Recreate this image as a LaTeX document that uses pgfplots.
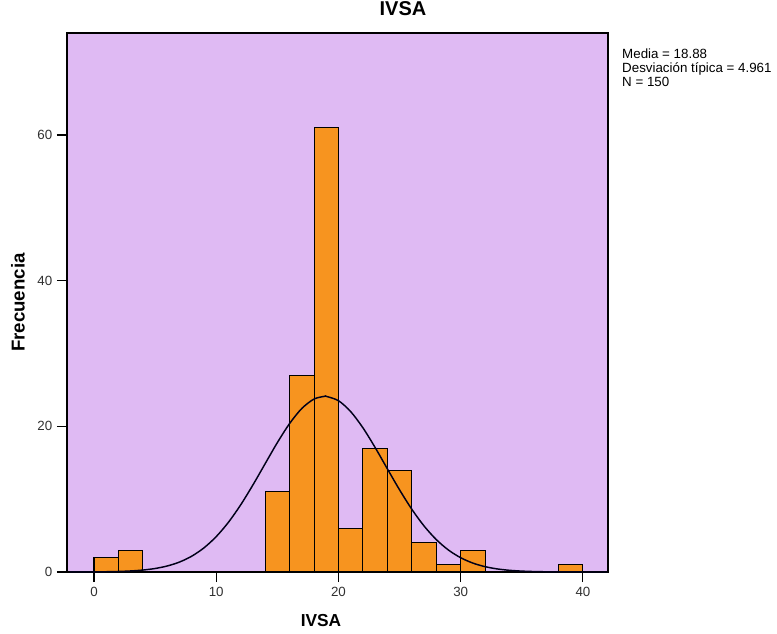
\documentclass[border=0pt]{standalone}
\usepackage{fontspec}
\setmainfont{Liberation Sans}
\usepackage{pgfplots}
\pgfplotsset{compat=1.18}
\definecolor{bgpurple}{HTML}{DFBAF3}
\definecolor{barorange}{HTML}{F7941F}
\definecolor{ticktext}{HTML}{303030}
\begin{document}
\begin{tikzpicture}[x=0.75pt,y=0.75pt]
% overall canvas (in px units of 0.75pt), axis box at (0,0)-(541,539)
\path[use as bounding box] (-67,-61) rectangle (710,572);
\begin{axis}[
  at={(0,0)}, anchor=south west,
  scale only axis,
  width=405.75pt, height=404.25pt,
  xmin=-2.21, xmax=42.05,
  ymin=0, ymax=74,
  axis background/.style={fill=bgpurple},
  axis line style={black, line width=0.8pt},
  xtick={0,10,20,30,40},
  ytick={0,20,40,60},
  tick align=outside,
  xtick pos=bottom, ytick pos=left,
  major tick length=7.5pt,
  tick style={black, line width=0.8pt},
  tick label style={font=\fontsize{10}{12}\selectfont, text=ticktext},
  /pgf/number format/assume math mode=true,
  title={\textbf{IVSA}},
  title style={font=\fontsize{15}{18}\selectfont, at={(axis description cs:0.621,1.0297)}, anchor=center},
  xlabel={\textbf{IVSA}},
  xlabel style={font=\fontsize{13}{16}\selectfont, at={(axis description cs:0.4695,-0.0909)}, anchor=center},
  ylabel={\textbf{Frecuencia}},
  ylabel style={font=\fontsize{14}{17}\selectfont, at={(axis description cs:-0.0906,0.5)}, anchor=center, rotate=0},
  clip=false,
]
% histogram, bin width 2
\addplot[ybar interval, fill=barorange, draw=black, line width=0.8pt] coordinates {
  (0,2) (2,3) (4,0) (6,0) (8,0) (10,0) (12,0) (14,11) (16,27) (18,61)
  (20,6) (22,17) (24,14) (26,4) (28,1) (30,3) (32,0) (34,0) (36,0) (38,1) (40,1)
};
% fitted normal curve (mean 18.88, sd 4.961, N=150, bin width 2)
\addplot[smooth, draw=black!90!blue, line width=1.1pt] coordinates {
  (-2,0.0034) (0,0.0173) (1,0.0365) (2,0.0739) (3,0.1437) (4,0.2684)
  (5,0.4816) (6,0.8297) (7,1.372) (8,2.178) (9,3.321) (10,4.862)
  (11,6.833) (12,9.222) (13,11.952) (14,14.871) (15,17.768) (16,20.384)
  (17,22.454) (18,23.748) (18.88,24.125) (19,24.118) (20,23.518) (21,22.020)
  (22,19.796) (23,17.089) (24,14.164) (25,11.272) (26,8.614) (27,6.321)
  (28,4.453) (29,3.012) (30,1.957) (31,1.2205) (32,0.7308) (33,0.4202)
  (34,0.2319) (35,0.1229) (36,0.0626) (37,0.0306) (38,0.0144) (40,0.0028) (42,0.0005)
};
\node[anchor=north west, align=left, font=\fontsize{10}{10.5}\selectfont, inner sep=0pt]
  at (rel axis cs:1.0258,0.9703)
  {Media = 18.88\\Desviación típica = 4.961\\N = 150};
\end{axis}
\end{tikzpicture}
\end{document}
